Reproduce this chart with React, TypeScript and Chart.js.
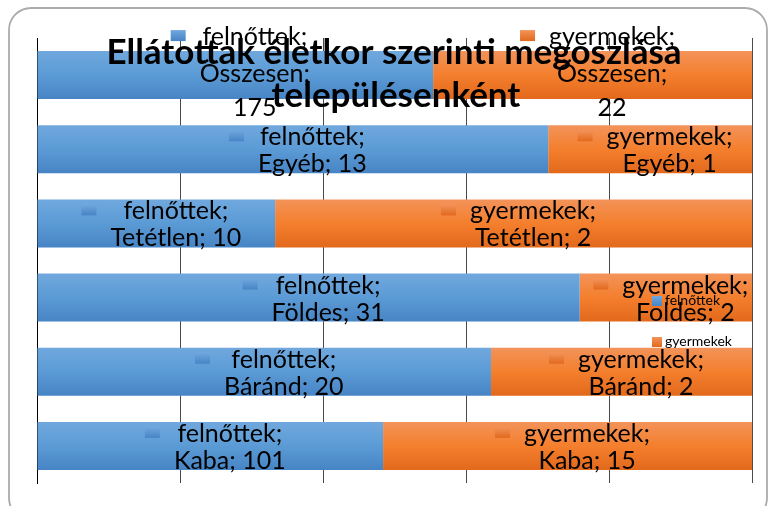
import React, { useEffect, useRef } from "react";
import { Chart, registerables } from "chart.js";

Chart.register(...registerables);

const categories = ["Összesen", "Egyéb", "Tetétlen", "Földes", "Báránd", "Kaba"];
const seriesNames = ["felnőttek", "gyermekek"];
// values shown in the data labels
const adultCounts = [175, 13, 10, 31, 20, 101];
const childCounts = [22, 1, 2, 2, 2, 15];
// bar lengths as drawn (percent of the 100% stack)
const adultShare = [55.4, 71.5, 33.3, 75.9, 63.5, 48.4];
const childShare = [44.6, 28.5, 66.7, 24.1, 36.5, 51.6];
// labels that wrap onto three lines
const labelWrapped = [true, false, false, false, false, false];
const xTicks = [0, 20, 40, 60, 80, 100];
const titleLines = ["Ellátottak életkor szerinti megoszlása", "településenként"];

const BLUE = ["#70a8de", "#5b9bd5", "#4784c5"];
const ORANGE = ["#f3935a", "#f47f2d", "#e2691c"];
const BAR_PCT = 0.647;
const FONT = "Lato, 'Noto Sans', sans-serif";

function gradientFor(chart: any, index: number, cols: string[]) {
  const ys = chart.scales && chart.scales.y;
  if (!ys || !chart.chartArea) return cols[1];
  const center = ys.getPixelForValue(index);
  const half = (chart.chartArea.height / categories.length) * BAR_PCT / 2;
  const g = chart.ctx.createLinearGradient(0, center - half, 0, center + half);
  g.addColorStop(0, cols[0]);
  g.addColorStop(0.5, cols[1]);
  g.addColorStop(1, cols[2]);
  return g;
}

const overlayPlugin = {
  id: "overlay",
  beforeDraw(chart: any) {
    const ctx = chart.ctx;
    ctx.save();
    ctx.strokeStyle = "#ababab";
    ctx.lineWidth = 1.8;
    ctx.beginPath();
    ctx.roundRect(9, 8, 758, 512, 22);
    ctx.stroke();
    ctx.restore();
  },
  afterDatasetsDraw(chart: any) {
    const ctx = chart.ctx;
    ctx.save();
    // title
    ctx.fillStyle = "#000";
    ctx.textAlign = "center";
    ctx.textBaseline = "alphabetic";
    ctx.font = `bold 35px ${FONT}`;
    ctx.fillText(titleLines[0], 394, 64);
    ctx.fillText(titleLines[1], 396, 107);

    // data labels
    const counts = [adultCounts, childCounts];
    const colsets = [BLUE, ORANGE];
    ctx.font = `25px ${FONT}`;
    for (let d = 0; d < 2; d++) {
      const meta = chart.getDatasetMeta(d);
      meta.data.forEach((el: any, i: number) => {
        const p = el.getProps(["x", "y", "base"], true);
        const left = Math.min(p.x, p.base);
        const right = Math.max(p.x, p.base);
        const cx = (left + right) / 2 + 5;
        const name = seriesNames[d];
        const cat = categories[i];
        const n = counts[d][i];
        const lines = labelWrapped[i]
          ? [`${name};`, `${cat};`, `${n}`]
          : [`${name};`, `${cat}; ${n}`];
        const baselines = labelWrapped[i]
          ? [p.y - 30, p.y + 7, p.y + 41]
          : [p.y - 4, p.y + 23];
        let tw = 0;
        lines.forEach((l) => (tw = Math.max(tw, ctx.measureText(l).width)));
        const blockW = 15 + 14 + tw;
        const bl = cx - blockW / 2;
        const ky = baselines[0] - 15;
        const g = ctx.createLinearGradient(0, ky, 0, ky + 11);
        g.addColorStop(0, colsets[d][0]);
        g.addColorStop(1, colsets[d][2]);
        ctx.fillStyle = g;
        ctx.fillRect(bl, ky, 15, 11);
        ctx.fillStyle = "#000";
        ctx.textAlign = "center";
        const tc = bl + 29 + tw / 2;
        lines.forEach((l, k) => ctx.fillText(l, tc, baselines[k]));
      });
    }

    // legend
    ctx.font = `14px ${FONT}`;
    ctx.textAlign = "left";
    const legendY = [296, 337];
    for (let d = 0; d < 2; d++) {
      const g = ctx.createLinearGradient(0, legendY[d], 0, legendY[d] + 10);
      g.addColorStop(0, colsets[d][0]);
      g.addColorStop(1, colsets[d][2]);
      ctx.fillStyle = g;
      ctx.fillRect(652, legendY[d], 10, 10);
      ctx.fillStyle = "#000";
      ctx.fillText(seriesNames[d], 665, legendY[d] + 9);
    }
    ctx.restore();
  },
};

export default function App() {
  const ref = useRef<HTMLCanvasElement | null>(null);
  useEffect(() => {
    if (!ref.current) return;
    const chart = new Chart(ref.current, {
      type: "bar",
      data: {
        labels: categories,
        datasets: [
          {
            label: seriesNames[0],
            data: adultShare,
            backgroundColor: (c: any) => gradientFor(c.chart, c.dataIndex, BLUE),
            borderWidth: 0,
          },
          {
            label: seriesNames[1],
            data: childShare,
            backgroundColor: (c: any) => gradientFor(c.chart, c.dataIndex, ORANGE),
            borderWidth: 0,
          },
        ],
      },
      options: {
        indexAxis: "y",
        responsive: false,
        animation: false,
        events: [],
        layout: { padding: { left: 37, right: 19, top: 38, bottom: 23 } },
        datasets: { bar: { barPercentage: BAR_PCT, categoryPercentage: 1 } },
        scales: {
          x: {
            stacked: true,
            min: 0,
            max: 100,
            afterBuildTicks: (s: any) => {
              s.ticks = xTicks.map((v) => ({ value: v }));
            },
            ticks: { display: false },
            grid: { color: "#4a4a4a", lineWidth: 1, drawTicks: false },
            border: { display: false },
          },
          y: {
            stacked: true,
            ticks: { display: false },
            grid: { display: false, drawTicks: false },
            border: { display: true, color: "#000", width: 1 },
          },
        },
        plugins: {
          legend: { display: false },
          title: { display: false },
          tooltip: { enabled: false },
        },
      },
      plugins: [overlayPlugin],
    });
    return () => chart.destroy();
  }, []);
  return (
    <div style={{ position: "fixed", left: 0, top: 0, width: 771, height: 506, background: "#fff" }}>
      <canvas ref={ref} width={771} height={506} />
    </div>
  );
}
